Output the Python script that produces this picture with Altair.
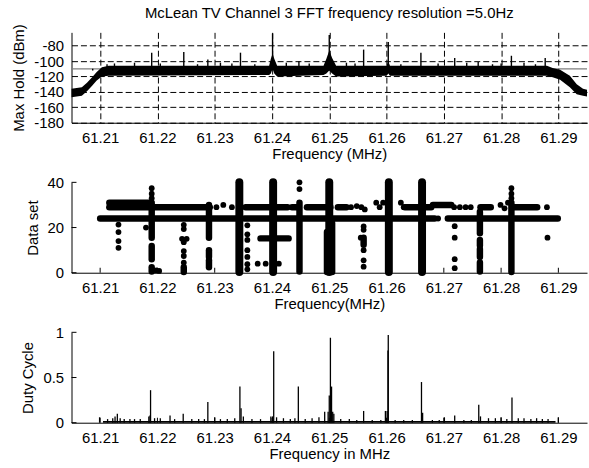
import altair as alt
import pandas as pd

FONT = "Liberation Sans"
W, H = 519, 91
X_DOMAIN = [61.205, 61.295]
x_ticks = [61.21, 61.22, 61.23, 61.24, 61.25, 61.26, 61.27, 61.28, 61.29]

# ---------------- top panel: max hold spectrum ----------------
top_title = "McLean TV Channel 3 FFT frequency resolution =5.0Hz"
top_y_ticks = [-80, -100, -120, -140, -160, -180]
top_y_domain = [-180, -62.6]
env_freq = [61.2050, 61.2068, 61.2077, 61.2086, 61.2094, 61.2103, 61.2115,
            61.2395, 61.2398, 61.2401, 61.2404, 61.2409,
            61.2490, 61.2495, 61.2500, 61.2505, 61.2512,
            61.2600, 61.2603, 61.2606,
            61.2880, 61.2890, 61.2903, 61.2920, 61.2932, 61.2943, 61.2950]
env_lo = [-147, -145, -139, -132, -125, -120, -119,
          -118, -116, -110, -116, -120,
          -118, -116, -112, -116, -120,
          -119, -116, -119,
          -119, -121, -124, -134, -143, -145, -146]
env_hi = [-136, -134, -128, -121, -114, -108, -106,
          -106, -97, -90, -97, -106,
          -106, -97, -86, -96, -106,
          -106, -100, -106,
          -106, -109, -111, -119, -130, -136, -137]
spk_freq = [61.2087, 61.2112, 61.2190, 61.2246, 61.2288, 61.2345, 61.2401,
            61.2447, 61.2500, 61.2560, 61.2603, 61.2660, 61.2719, 61.2760,
            61.2818, 61.2877,
            61.2125, 61.2160, 61.2205, 61.2270, 61.2310, 61.2330, 61.2370,
            61.2425, 61.2465, 61.2530, 61.2545, 61.2625, 61.2690, 61.2740,
            61.2785, 61.2800, 61.2840, 61.2860]
spk_peak = [-110, -104, -89, -88, -98, -89, -64,
            -100, -66, -85, -75, -89, -96, -101,
            -93, -96,
            -103, -102, -103, -104, -102, -103, -104,
            -102, -103, -102, -103, -104, -103, -102,
            -104, -103, -102, -104]
spk_base = -112
threshold = [-110]

# ---------------- middle panel: data set occupancy ----------------
mid_y_ticks = [0, 20, 40]
row_f0 = [61.2100, 61.2352, 61.2707, 61.2116, 61.2116, 61.2354, 61.2435,
          61.2461, 61.2515, 61.2632, 61.2681, 61.2764, 61.2822, 61.2380]
row_f1 = [61.2346, 61.2684, 61.2899, 61.2186, 61.2290, 61.2427, 61.2444,
          61.2502, 61.2530, 61.2678, 61.2713, 61.2782, 61.2863, 61.2429]
row_y = [24, 24, 24, 31, 29, 29, 29, 29, 29, 29, 30, 29, 29, 15.2]
thick_col_f = [61.2343, 61.2402, 61.2500, 61.2604, 61.2662]
thick_col_y0 = [0.3, 0.3, 0.3, 0.3, 0.3]
thick_col_y1 = [40, 40, 40, 40, 40]
col_f = [61.2190, 61.2190, 61.2190, 61.2246, 61.2290, 61.2290, 61.2290,
         61.2448, 61.2505, 61.2496, 61.2560, 61.2763, 61.2763, 61.2763,
         61.2763, 61.2818]
col_y0 = [15.5, 6, 0.5, 0.3, 15.5, 7, 2.4, 0.5, 0.3, 0.3, 12.4, 17.5, 12, 7, 0.5, 0.3]
col_y1 = [31, 11.8, 2.4, 2.4, 30, 10, 5.5, 31, 22, 18, 15.5, 27, 14.5, 10.5, 4.5, 31]
dot_f = [61.2292, 61.2303, 61.2315, 61.2330, 61.2538, 61.2548, 61.2556, 61.2562,
         61.2582, 61.2588, 61.2594, 61.2625, 61.2630, 61.2690, 61.2718, 61.2728,
         61.2738, 61.2747, 61.2799, 61.2806, 61.2812, 61.2880,
         61.2132, 61.2132, 61.2132, 61.2132,
         61.2190, 61.2190, 61.2190, 61.2180, 61.2198, 61.2203,
         61.2246, 61.2246, 61.2243, 61.2251, 61.2246, 61.2246, 61.2246, 61.2246,
         61.2357, 61.2357, 61.2357, 61.2357, 61.2357, 61.2357, 61.2357,
         61.2375, 61.2389, 61.2412,
         61.2448, 61.2448,
         61.2555, 61.2560, 61.2560, 61.2560, 61.2560, 61.2560,
         61.2719, 61.2719, 61.2719, 61.2719,
         61.2818, 61.2818, 61.2818, 61.2881]
dot_y = [29, 29, 30, 29, 29, 29.5, 29, 28,
         31, 29, 31, 31, 29, 24, 29, 29,
         29, 29, 30, 28.5, 31, 29,
         21.3, 18, 14, 11,
         37.4, 35, 33, 20, 1, 0.8,
         21.2, 19.3, 15, 15, 13.5, 9.6, 7.4, 4.5,
         21, 17, 14.5, 10, 7, 3.8, 1.5,
         4, 4, 4,
         40, 37,
         15.5, 20.5, 19, 10, 5.5, 2.7,
         20.6, 15.5, 6, 2,
         37.4, 35, 33, 15.5]

# ---------------- bottom panel: duty cycle ----------------
bot_y_ticks = [0, 0.5, 1]
fuzz_f0 = [61.2105]
fuzz_f1 = [61.2895]
fuzz_v = [0.02]
duty_f = [61.2099, 61.2188, 61.2187, 61.2288, 61.2344, 61.2346, 61.2403, 61.2401,
          61.2446, 61.2502, 61.2504, 61.2500, 61.2498, 61.2506, 61.2560, 61.2603,
          61.26025, 61.2601, 61.2661, 61.2663, 61.2701, 61.2719, 61.2761, 61.2800,
          61.2819, 61.2900,
          61.2113, 61.2122, 61.2126, 61.2130, 61.2135, 61.2142, 61.2152, 61.2160,
          61.2170, 61.2185, 61.2195, 61.2205, 61.2222, 61.2230, 61.2245, 61.2260,
          61.2272, 61.2282, 61.2300, 61.2310, 61.2322, 61.2335, 61.2350, 61.2365,
          61.2380, 61.2398, 61.2408, 61.2420, 61.2432, 61.2440, 61.2458, 61.2470,
          61.2482, 61.2492, 61.2508, 61.2520, 61.2535, 61.2548, 61.2575, 61.2590,
          61.2598, 61.2615, 61.2630, 61.2645, 61.2680, 61.2692, 61.2735, 61.2748,
          61.2764, 61.2778, 61.2790, 61.2810, 61.2830, 61.2840, 61.2852, 61.2862,
          61.2872, 61.2882]
duty_v = [0.06, 0.36, 0.08, 0.23, 0.40, 0.16, 0.79, 0.07,
          0.40, 0.94, 0.40, 0.30, 0.12, 0.12, 0.13, 0.97,
          0.80, 0.13, 0.45, 0.11, 0.06, 0.08, 0.20, 0.06,
          0.28, 0.06,
          0.04, 0.05, 0.07, 0.10, 0.05, 0.04, 0.04, 0.04,
          0.04, 0.07, 0.05, 0.05, 0.08, 0.04, 0.10, 0.04,
          0.04, 0.04, 0.06, 0.04, 0.04, 0.05, 0.07, 0.04,
          0.04, 0.07, 0.06, 0.05, 0.04, 0.05, 0.04, 0.05,
          0.06, 0.12, 0.10, 0.04, 0.04, 0.03, 0.03, 0.03,
          0.13, 0.03, 0.03, 0.03, 0.03, 0.03, 0.03, 0.03,
          0.07, 0.05, 0.05, 0.04, 0.05, 0.05, 0.04, 0.05,
          0.04, 0.04]

# ---------------- helpers ----------------
def xaxis(title, grid):
    return alt.Axis(values=x_ticks, format=".2f", title=title, grid=grid,
                    gridDash=[6, 3], gridColor="#000000", gridOpacity=1,
                    ticks=False, labelPadding=7.5, titlePadding=2,
                    labelFlush=False, labelOverlap=False)


def yaxis(title, values, grid, fmt=None):
    kw = dict(values=values, title=title, grid=grid, gridDash=[6, 3],
              gridColor="#000000", gridOpacity=1, ticks=False,
              labelPadding=8, titlePadding=7, labelOverlap=False)
    if fmt is None:
        kw["labelExpr"] = "'' + datum.value"
    else:
        kw["format"] = fmt
    return alt.Axis(**kw)


def X(field, title, grid=False):
    return alt.X(field, type="quantitative", axis=xaxis(title, grid),
                 scale=alt.Scale(domain=X_DOMAIN, nice=False, zero=False))


def Y(field, title, values, domain, grid=False, fmt=None):
    return alt.Y(field, type="quantitative", axis=yaxis(title, values, grid, fmt),
                 scale=alt.Scale(domain=domain, nice=False, zero=False))


# ---------------- top chart ----------------
t_x = "Frequency (MHz)"
t_y = "Max Hold (dBm)"
env_df = pd.DataFrame({"f": env_freq, "y0": env_lo, "y1": env_hi})
spk_df = pd.DataFrame({"f": spk_freq, "y1": spk_peak, "y0": [spk_base] * len(spk_freq)})
thr_df = pd.DataFrame({"y0": threshold})

band = alt.Chart(env_df).mark_area(color="black", opacity=1).encode(
    x=X("f", t_x, grid=True), y=Y("y0", t_y, top_y_ticks, top_y_domain, grid=True),
    y2="y1")
thr = alt.Chart(thr_df).mark_rule(color="#7f7f7f", strokeWidth=1.2).encode(
    y=Y("y0", t_y, top_y_ticks, top_y_domain, grid=True),
    x=alt.value(0), x2=alt.value(W))
spikes = alt.Chart(spk_df).mark_rule(color="black", strokeWidth=1.4).encode(
    x=X("f", t_x, grid=True), y=Y("y0", t_y, top_y_ticks, top_y_domain, grid=True),
    y2="y1")
top = alt.layer(thr, band, spikes).properties(
    width=W, height=H,
    title=alt.TitleParams(text=top_title, font=FONT, fontSize=15, fontWeight="normal",
                          anchor="middle", offset=3, color="black"))

# ---------------- middle chart ----------------
m_x = "Frequency(MHz)"
m_y = "Data set"
m_dom = [0, 40]
row_df = pd.DataFrame({"f0": row_f0, "f1": row_f1, "y": row_y})
tcol_df = pd.DataFrame({"f": thick_col_f, "y0": thick_col_y0, "y1": thick_col_y1})
col_df = pd.DataFrame({"f": col_f, "y0": col_y0, "y1": col_y1})
dot_df = pd.DataFrame({"f": dot_f, "y": dot_y})
xt_df = pd.DataFrame({"t": x_ticks})
myt_df = pd.DataFrame({"t": mid_y_ticks})

rows = alt.Chart(row_df).mark_rule(color="black", strokeWidth=6.5, strokeCap="round").encode(
    x=X("f0", m_x), x2="f1", y=Y("y", m_y, mid_y_ticks, m_dom))
tcols = alt.Chart(tcol_df).mark_rule(color="black", strokeWidth=8, strokeCap="round").encode(
    x=X("f", m_x), y=Y("y0", m_y, mid_y_ticks, m_dom), y2="y1")
cols = alt.Chart(col_df).mark_rule(color="black", strokeWidth=6.5, strokeCap="round").encode(
    x=X("f", m_x), y=Y("y0", m_y, mid_y_ticks, m_dom), y2="y1")
dots = alt.Chart(dot_df).mark_circle(color="black", opacity=1, size=34).encode(
    x=X("f", m_x), y=Y("y", m_y, mid_y_ticks, m_dom))
m_xt = alt.Chart(xt_df).mark_rule(color="black").encode(
    x=X("t", m_x), y=alt.value(H), y2=alt.value(H - 5))
m_yt = alt.Chart(myt_df).mark_rule(color="black").encode(
    y=Y("t", m_y, mid_y_ticks, m_dom), x=alt.value(0), x2=alt.value(5))
mid = alt.layer(m_xt, m_yt, rows, tcols, cols, dots).properties(width=W, height=H)

# ---------------- bottom chart ----------------
b_x = "Frequency in MHz"
b_y = "Duty Cycle"
b_dom = [0, 1]
fuzz_df = pd.DataFrame({"f0": fuzz_f0, "f1": fuzz_f1, "v": fuzz_v, "z": [0]})
duty_df = pd.DataFrame({"f": duty_f, "v": duty_v, "z": [0] * len(duty_f)})
byt_df = pd.DataFrame({"t": bot_y_ticks})

fuzz = alt.Chart(fuzz_df).mark_rect(color="black").encode(
    x=X("f0", b_x), x2="f1", y=Y("z", b_y, bot_y_ticks, b_dom, fmt="~g"), y2="v")
duty = alt.Chart(duty_df).mark_rule(color="black", strokeWidth=1.3).encode(
    x=X("f", b_x), y=Y("z", b_y, bot_y_ticks, b_dom, fmt="~g"), y2="v")
b_xt = alt.Chart(xt_df).mark_rule(color="black").encode(
    x=X("t", b_x), y=alt.value(H), y2=alt.value(H - 5))
b_yt = alt.Chart(byt_df).mark_rule(color="black").encode(
    y=Y("t", b_y, bot_y_ticks, b_dom, fmt="~g"), x=alt.value(0), x2=alt.value(5))
bot = alt.layer(b_xt, b_yt, fuzz, duty).properties(width=W, height=H)

chart = alt.vconcat(top, mid, bot, spacing=60, bounds="flush").properties(
    padding={"left": 11, "top": 4, "right": 1, "bottom": 2},
    background="white"
).configure_view(stroke=None).configure_axis(
    labelFont=FONT, titleFont=FONT, labelFontSize=15, titleFontSize=15,
    labelColor="black", titleColor="black", titleFontWeight="normal",
    domainColor="black", domainWidth=1
)

chart.save("out.html", embed_options={"renderer": "svg", "actions": False})
